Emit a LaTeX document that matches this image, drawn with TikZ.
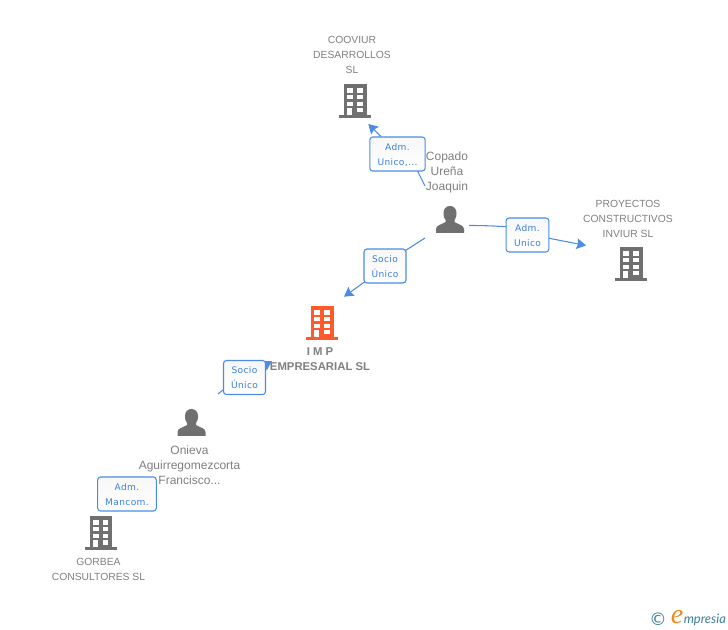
\documentclass[tikz,border=0pt]{standalone}
\usepackage{fontspec}
\setmainfont{Liberation Sans}
\newfontfamily\boxfont{DejaVu Sans}[LetterSpace=4]
\newfontfamily\copyfont{DejaVu Sans}
\newfontfamily\efont{Liberation Serif Italic}
\newfontfamily\logofont{Lato Italic}
\usetikzlibrary{arrows.meta}
\definecolor{edgeblue}{HTML}{4A8CE6}
\definecolor{boxtext}{HTML}{3B80E0}
\definecolor{labgray}{HTML}{808080}
\definecolor{icongray}{HTML}{707070}
\definecolor{iconorange}{HTML}{FF5A2B}
\definecolor{logoteal}{HTML}{3F7F9B}
\definecolor{logoorange}{HTML}{F08A1D}
\newcommand{\firstline}{\rule{0pt}{7.4pt}}
\newcommand{\firstlineb}{\rule{0pt}{5.9pt}}
\tikzset{
  x=0.75pt,y=-0.75pt,
  bldg/.pic={
    \fill[pic actions] (-11,0) rectangle (11.5,31);
    \fill[pic actions] (-16,31) rectangle (16,34);
    \foreach \yy in {4.3,11,17.7}{
      \fill[white] (-7.8,\yy) rectangle (-2,\yy+4.4);
      \fill[white] (2,\yy) rectangle (7.8,\yy+4.4);
    }
    \fill[white] (-7.8,24) rectangle (-3,31);
    \fill[white] (2,24) rectangle (7.8,28.5);
  },
  person/.pic={
    \fill[pic actions] (-14,27) -- (-14,23) .. controls (-14,19) and (-8,18.5) .. (-4.5,16)
      -- (-4.5,14) .. controls (-6.3,12) and (-6.5,9.5) .. (-6.5,7)
      .. controls (-6.5,2.5) and (-3.5,0) .. (0,0)
      .. controls (3.5,0) and (6.5,2.5) .. (6.5,7)
      .. controls (6.5,9.5) and (6.3,12) .. (4.5,14)
      -- (4.5,16) .. controls (8,18.5) and (14,19) .. (14,23) -- (14,27) -- cycle;
  },
  lab/.style={text=labgray,font=\fontsize{7.75pt}{11.25pt}\selectfont,align=center,inner sep=0pt},
  perslab/.style={text=labgray,font=\fontsize{9pt}{11.25pt}\selectfont,align=center,inner sep=0pt},
  mainlab/.style={text=labgray,font=\fontsize{8.5pt}{11.25pt}\selectfont\bfseries,align=center,inner sep=0pt},
  relbox/.style={draw=edgeblue,line width=0.8pt,rounded corners=2.2pt,top color=black!3,bottom color=white,
    text=boxtext,font=\boxfont\fontsize{6.8pt}{11.25pt}\selectfont,align=center,inner sep=0pt},
  conn/.style={draw=edgeblue,line width=0.8pt},
  arr/.style={conn,-{Stealth[length=7pt,width=8pt,inset=1pt]}},
}
\begin{document}
\begin{tikzpicture}
\useasboundingbox (0,0) rectangle (728,630);
\fill[white] (0,0) rectangle (728,630);

% named places
\coordinate (coov) at (355,84);
\coordinate (proy) at (631,247);
\coordinate (imp) at (322,306);
\coordinate (gorb) at (100.5,516);
\coordinate (cop) at (450,206);
\coordinate (oni) at (191.5,409);

% free ends of the connectors
\coordinate (copUp) at (425,186);
\coordinate (coovEnd) at (368.3,124);
\coordinate (copRight) at (469,225.5);
\coordinate (proyEnd) at (586,245.5);
\coordinate (copDown) at (425,238);
\coordinate (impEnd) at (344,296.7);
\coordinate (oniUp) at (218,394);
\coordinate (impEndB) at (272,361);

% connectors
\draw[conn] (copUp) -- (417,170);
\draw[arr] (381,136.5) -- (coovEnd);
\draw[conn] (copRight) .. controls (485,225.5) and (495,226) .. (510,227);
\draw[arr] (545,237.5) -- (proyEnd);
\draw[conn] (copDown) -- (400,254);
\draw[arr] (370,278) -- (impEnd);
\draw[conn] (oniUp) -- (228,386);
\draw[arr] (250,374) -- (impEndB);

% icons
\pic[fill=icongray] at (coov) {bldg};
\pic[fill=icongray] at (proy) {bldg};
\pic[fill=iconorange] at (imp) {bldg};
\pic[fill=icongray] at (gorb) {bldg};
\pic[fill=icongray] at (cop) {person};
\pic[fill=icongray] at (oni) {person};

% labels
\node[lab] (tcoov) at (352,55) {COOVIUR\\DESARROLLOS\\SL};
\node[lab] (tproy) at (628,219) {PROYECTOS\\CONSTRUCTIVOS\\INVIUR SL};
\node[mainlab] (timp) at (320,359) {I M P\\EMPRESARIAL SL};
\node[lab] (tgorb) at (98.5,569) {GORBEA\\CONSULTORES SL};
\node[perslab] (tcop) at (447,172) {Copado\\Ureña\\Joaquin};
\node[perslab] (toni) at (189.5,465) {Onieva\\Aguirregomezcorta\\Francisco...};

% relation boxes
\node[relbox,minimum width=41.5pt,minimum height=25.5pt] (b1) at (397.5,154) {\firstline Adm.\\Unico,...};
\node[relbox,minimum width=32pt,minimum height=25.5pt] (b2) at (527.5,235) {\firstlineb Adm.\\Unico};
\node[relbox,minimum width=31.5pt,minimum height=25.5pt] (b3) at (385,266) {\firstlineb Socio\\Único};
\node[relbox,minimum width=31.5pt,minimum height=25.5pt] (b4) at (244.5,377.5) {\firstlineb Socio\\Único};
\node[relbox,minimum width=44pt,minimum height=25.5pt] (b5) at (127,494) {\firstlineb Adm.\\Mancom.};

% logo
\node[text=logoteal,font=\copyfont\fontsize{13pt}{13pt}\selectfont,inner sep=0pt] (logoc) at (658,619) {©};
\node[text=logoorange,font=\efont\fontsize{21pt}{21pt}\selectfont,inner sep=0pt] (logoe) at (677,617) {e};
\node[text=logoteal,font=\logofont\fontsize{9.7pt}{10pt}\selectfont,inner sep=0pt,anchor=west] (logot) at (683.5,620) {mpresia};
\end{tikzpicture}
\end{document}
